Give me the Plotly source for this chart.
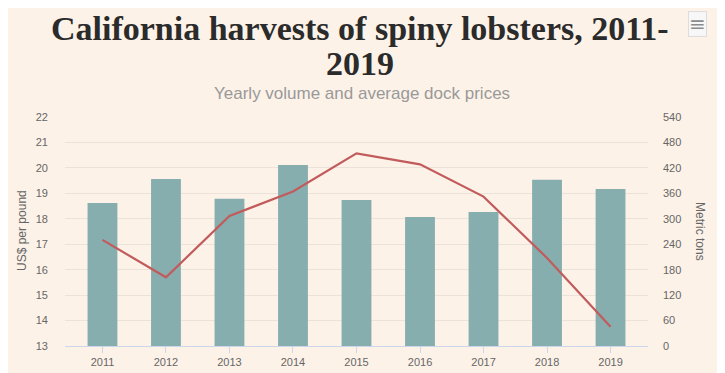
import plotly.graph_objects as go

years = ["2011", "2012", "2013", "2014", "2015", "2016", "2017", "2018", "2019"]
volume_tons = [337, 394, 347, 427, 344, 304, 316, 392, 370]
price_usd_lb = [17.17, 15.70, 18.11, 19.07, 20.57, 20.14, 18.87, 16.46, 13.76]

price_ticks = list(range(13, 23))
ton_ticks = list(range(0, 541, 60))

BG = "#fdf2e8"
GRID = "#ebe3da"
TICKC = "#666666"

# page offset (default body margin of the html page)
OFF = 8
W, H = 725 - OFF, 373 - OFF
ML, MR, MT, MB = 65 - OFF, 77, 117 - OFF, 27
PW = W - ML - MR
PH = H - MT - MB


def px(x):
    return (x - OFF - ML) / PW


def py(y):
    return (H - MB - (y - OFF)) / PH


fig = go.Figure()
fig.add_trace(go.Bar(x=years, y=volume_tons, yaxis="y", marker_color="#87aeae",
                     marker_line_width=0, name="Metric tons"))
fig.add_trace(go.Scatter(x=years, y=price_usd_lb, yaxis="y2", mode="lines",
                         line=dict(color="#c15b5c", width=2.2), name="US$ per pound"))

fig.update_layout(
    width=W, height=H,
    paper_bgcolor=BG, plot_bgcolor=BG,
    margin=dict(l=ML, r=MR, t=MT, b=MB),
    showlegend=False,
    bargap=0.53,
    font=dict(family="Liberation Sans, Arial, sans-serif", color=TICKC, size=11),
    xaxis=dict(type="category", range=[-0.59, 8.59], showgrid=False, automargin=False,
               showline=True, linecolor="#ccd6eb", linewidth=1,
               ticks="outside", ticklen=6, tickcolor="#ccd6eb",
               tickfont=dict(size=11, color=TICKC), fixedrange=True),
    yaxis=dict(side="right", range=[0, 540], tickvals=ton_ticks, automargin=False,
               showgrid=True, gridcolor=GRID, gridwidth=1, zeroline=False,
               ticklabelstandoff=14, tickfont=dict(size=11, color=TICKC)),
    yaxis2=dict(side="left", overlaying="y", range=[13, 22], tickvals=price_ticks,
                automargin=False, showgrid=False, zeroline=False, ticklabelstandoff=16,
                tickfont=dict(size=11, color=TICKC)),
    annotations=[
        dict(text="<b>California harvests of spiny lobsters, 2011-</b>", xref="paper", yref="paper",
             x=px(360), y=py(28), xanchor="center", yanchor="middle", height=38,
             showarrow=False, font=dict(family="Liberation Serif, Georgia, serif", size=34, color="#2b2b2b")),
        dict(text="<b>2019</b>", xref="paper", yref="paper",
             x=px(360), y=py(63), xanchor="center", yanchor="middle", height=30,
             showarrow=False, font=dict(family="Liberation Serif, Georgia, serif", size=34, color="#2b2b2b")),
        dict(text="Yearly volume and average dock prices", xref="paper", yref="paper",
             x=px(362), y=py(93), xanchor="center", yanchor="middle",
             showarrow=False, font=dict(family="Liberation Sans, Arial, sans-serif", size=17, color="#999999")),
        dict(text="US$ per pound", xref="paper", yref="paper", textangle=-90,
             x=px(22), y=py(231), xanchor="center", yanchor="middle",
             showarrow=False, font=dict(size=12, color=TICKC)),
        dict(text="Metric tons", xref="paper", yref="paper", textangle=90,
             x=px(700), y=py(231), xanchor="center", yanchor="middle",
             showarrow=False, font=dict(size=12, color=TICKC)),
        dict(text="≡", xref="paper", yref="paper",
             x=px(697), y=py(24), xanchor="center", yanchor="middle",
             showarrow=False, font=dict(family="DejaVu Sans", size=20, color="#8c8c8c"),
             bgcolor="#f7f7f7", bordercolor="#dddddd", borderwidth=1, borderpad=0),
    ],
)

fig.write_html("out.html", config={"displayModeBar": False})
